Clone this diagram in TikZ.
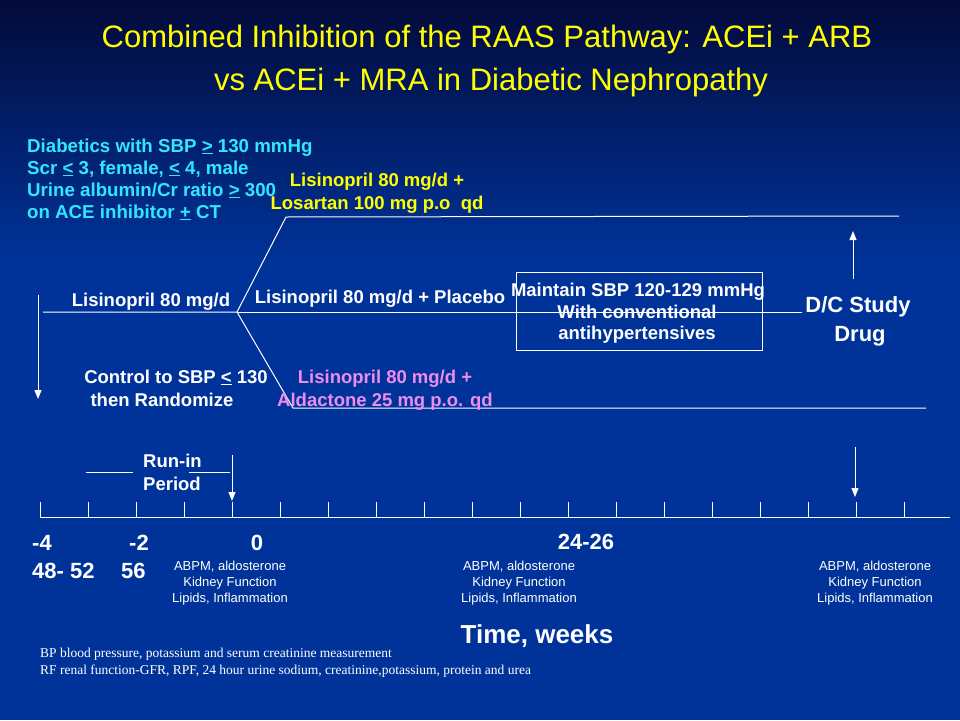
\documentclass[tikz,border=0pt]{standalone}
\usepackage{fontspec}
\setmainfont{Liberation Sans}
\newfontfamily\notefont{Liberation Serif}
\usetikzlibrary{arrows.meta, positioning}

\definecolor{slidetop}{RGB}{3,10,58}
\definecolor{slideblue}{RGB}{0,51,153}
\definecolor{titleyellow}{RGB}{255,255,0}
\definecolor{critcyan}{RGB}{51,230,255}
\definecolor{armpink}{RGB}{238,140,238}

\begin{document}
\begin{tikzpicture} [
    x=1pt, y=-1pt,
    rule/.style = {draw=white, line width=1pt},
    pointer/.style = {rule, -{Triangle[width=7pt, length=9pt]}},
    titletext/.style = {anchor=base, inner sep=0pt, text=titleyellow, font=\fontsize{31}{35}\selectfont},
    boldtext/.style = {anchor=base, inner sep=0pt, text=white, font=\fontsize{18.5}{22}\selectfont\bfseries},
    crittext/.style = {anchor=base west, inner sep=0pt, text=critcyan, font=\fontsize{18.7}{22}\selectfont\bfseries},
    bigtext/.style = {anchor=base, inner sep=0pt, text=white, font=\fontsize{22}{26}\selectfont\bfseries},
    visittext/.style = {anchor=base, inner sep=0pt, text=white, font=\fontsize{13}{16}\selectfont},
    notetext/.style = {anchor=base west, inner sep=0pt, text=white, font=\fontsize{13.5}{16}\notefont}]
    % \draw [help lines] (0,0) grid[step=40] (960,720);
    \useasboundingbox (0,0) rectangle (960,720);
    \fill [top color=slidetop, bottom color=slideblue] (0,0) rectangle (960,260);
    \fill [slideblue] (0,260) rectangle (960,720);

    % title
    \node (title1) [titletext] at (487,47) {Combined Inhibition of the RAAS Pathway: ACEi + ARB};
    \node (title2) [titletext] at (491,90) {vs ACEi + MRA in Diabetic Nephropathy};

    % inclusion criteria
    \node (crit1) [crittext] at (27,152) {Diabetics with SBP \underline{>} 130 mmHg};
    \node (crit2) [crittext] at (27,174) {Scr \underline{<} 3, female, \underline{<} 4, male};
    \node (crit3) [crittext] at (27,196) {Urine albumin/Cr ratio \underline{>} 300};
    \node (crit4) [crittext] at (27,218) {on ACE inhibitor \underline{+} CT};

    % study arms
    \coordinate (start) at (43,312);
    \coordinate (split) at (237,312);
    \coordinate (topbend) at (286,217);
    \coordinate (topend) at (899,216);
    \coordinate (midend) at (802,312);
    \coordinate (lowbend) at (293,408);
    \coordinate (lowend) at (926,408);
    \path [rule] (start) -- (split) -- (topbend) -- (topend);
    \path [rule] (split) -- (midend);
    \path [rule] (split) -- (lowbend) -- (lowend);

    \node (arbA) [boldtext, text=titleyellow] at (377,186) {Lisinopril 80 mg/d +};
    \node (arbB) [boldtext, text=titleyellow] at (377,209) {Losartan 100 mg p.o\ \ qd};
    \node (runin) [boldtext] at (151,306) {Lisinopril 80 mg/d};
    \node (placebo) [boldtext] at (380,303) {Lisinopril 80 mg/d + Placebo};
    \node (controlA) [boldtext] at (176,383) {Control to SBP \underline{<} 130};
    \node (controlB) [boldtext] at (162,406) {then Randomize};
    \node (mraA) [boldtext, text=armpink] at (385,383) {Lisinopril 80 mg/d +};
    \node (mraB) [boldtext, text=armpink] at (385,406) {Aldactone 25 mg p.o. qd};

    \node (maintainbox) [rule, minimum width=246pt, minimum height=78pt] at (639,311) {};
    \node (maintainA) [boldtext] at (638,296) {Maintain SBP 120-129 mmHg};
    \node (maintainB) [boldtext] at (637,318) {With conventional};
    \node (maintainC) [boldtext] at (637,339) {antihypertensives};

    \node (stopA) [bigtext] at (858,312) {D/C Study};
    \node (stopB) [bigtext] at (860,341) {Drug};
    \coordinate (stoptail) at (853,279);
    \coordinate (stophead) at (853,231);
    \draw [pointer] (stoptail) -- (stophead);

    \coordinate (enroll) at (38,295);
    \coordinate (randomize) at (38,399);
    \draw [pointer] (enroll) -- (randomize);

    % time axis
    \coordinate (axisleft) at (40,517);
    \coordinate (axisright) at (950,517);
    \draw [rule] (axisleft) -- (axisright);
    \foreach \k in {0,...,18}
        \draw [rule] ({40+48*\k},502) -- ({40+48*\k},517);

    \node (periodA) [boldtext, anchor=base west] at (143,467) {Run-in};
    \node (periodB) [boldtext, anchor=base west] at (143,490) {Period};
    \coordinate (braceA1) at (86,472);
    \coordinate (braceA2) at (133,472);
    \coordinate (braceB1) at (189,472);
    \coordinate (braceB2) at (230,472);
    \draw [rule] (braceA1) -- (braceA2);
    \draw [rule] (braceB1) -- (braceB2);
    \coordinate (randtail) at (232,455);
    \coordinate (randhead) at (232,501);
    \draw [pointer] (randtail) -- (randhead);
    \coordinate (endtail) at (855,447);
    \coordinate (endhead) at (855,497);
    \draw [pointer] (endtail) -- (endhead);

    \node (wkA) [bigtext] at (42,550) {-4};
    \node (wkB) [bigtext] at (139,550) {-2};
    \node (wkC) [bigtext] at (257,550) {0};
    \node (wkD) [bigtext] at (586,549) {24-26};
    \node (wkE) [bigtext, anchor=base west] at (32,578) {48- 52};
    \node (wkF) [bigtext, anchor=base west] at (121,578) {56};

    % measurements
    \foreach \x/\v in {230/first, 519/mid, 875/last} {
        \node (\v A) [visittext] at (\x,570) {ABPM, aldosterone};
        \node (\v B) [visittext] at (\x,586) {Kidney Function};
        \node (\v C) [visittext] at (\x,602) {Lipids, Inflammation};
    }

    \node (axislabel) [bigtext, font=\fontsize{26}{30}\selectfont\bfseries] at (537,643) {Time, weeks};

    \node (noteA) [notetext] at (40,657) {BP blood pressure,\ potassium and serum creatinine\ measurement};
    \node (noteB) [notetext] at (40,674) {RF renal\ function-GFR, RPF, 24 hour urine\ sodium, creatinine,potassium, protein and urea};
\end{tikzpicture}
\end{document}
